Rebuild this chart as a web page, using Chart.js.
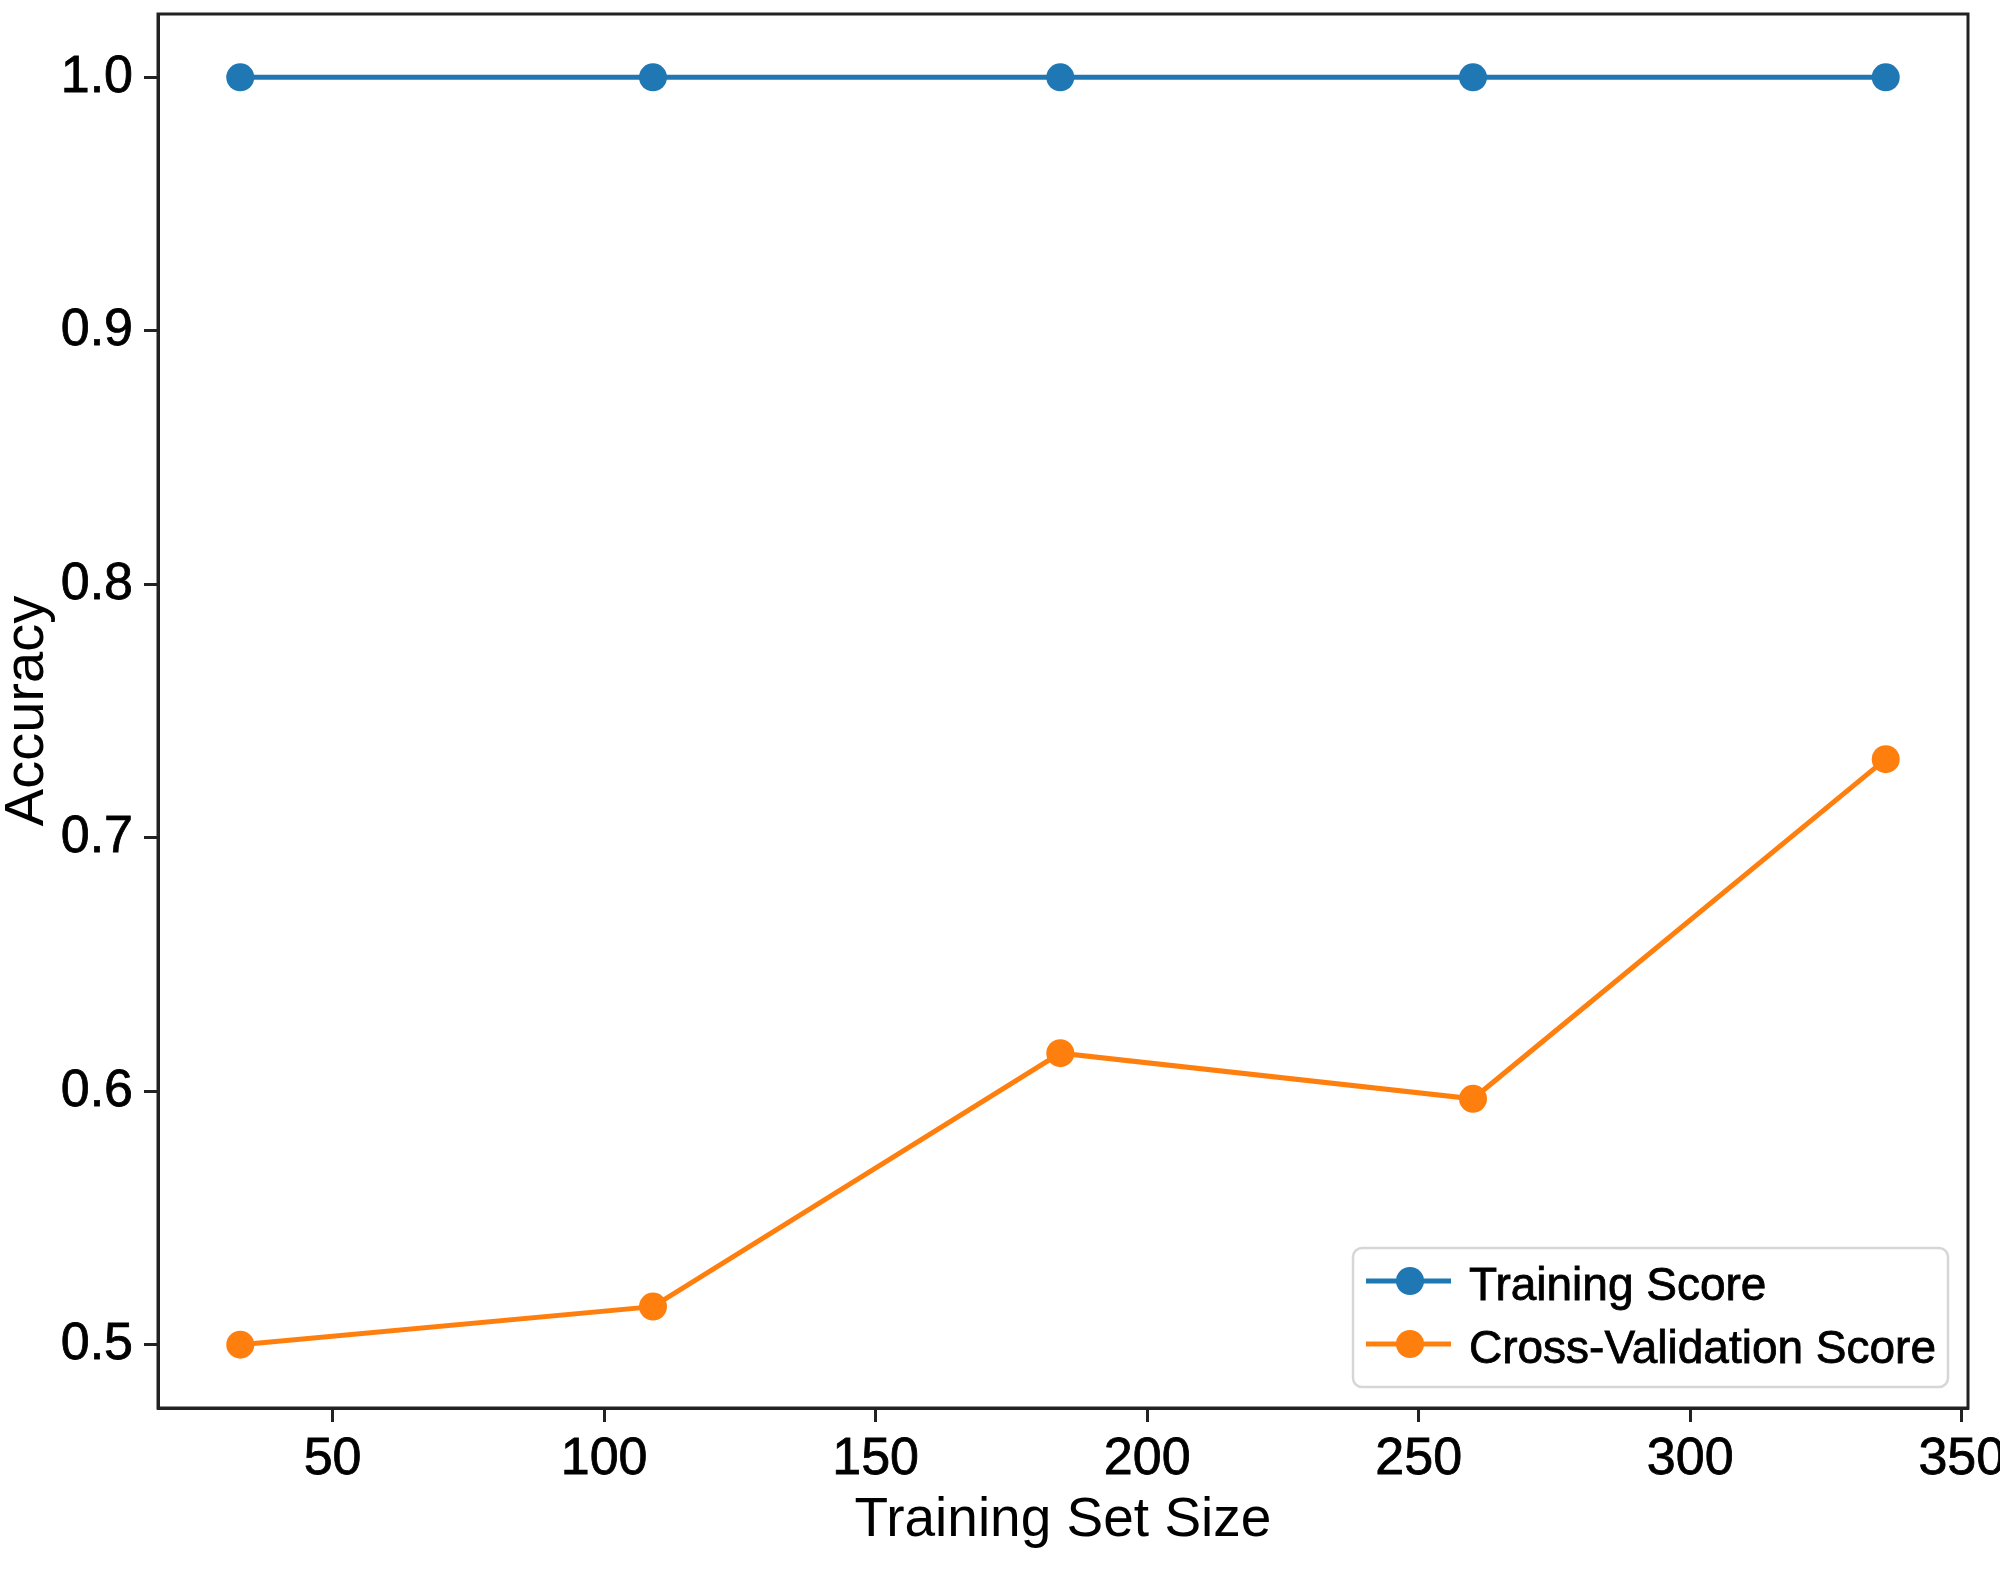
<!DOCTYPE html>
<html>
<head>
<meta charset="utf-8">
<script src="https://cdn.jsdelivr.net/npm/chart.js@4.4.1/dist/chart.umd.min.js"></script>
<style>
  html, body { margin: 0; padding: 0; background: #ffffff; }
  #wrap { width: 2000px; height: 1570px; }
  canvas { display: block; }
</style>
</head>
<body>
<div id="wrap"><canvas id="c" width="2000" height="1570" style="width:2000px;height:1570px"></canvas></div>
<script>
// ---- data ----
const trainSizes = [33, 109, 184, 260, 336];
const trainingScore = [1.0, 1.0, 1.0, 1.0, 1.0];
const cvScore = [0.500, 0.515, 0.615, 0.597, 0.731];
const seriesLabels = ['Training Score', 'Cross-Validation Score'];
const xTicks = [50, 100, 150, 200, 250, 300, 350];
const yTicks = [0.5, 0.6, 0.7, 0.8, 0.9, 1.0];
const xTitle = 'Training Set Size';
const yTitle = 'Accuracy';

const FONT = '"Liberation Sans", Arial, Helvetica, sans-serif';
const BLUE = '#1f77b4';
const ORANGE = '#ff7f0e';
const AXIS = '#222222';

Chart.defaults.color = '#000000';
Chart.defaults.font.family = FONT;

function toPoints(xs, ys) { return xs.map((x, i) => ({ x: x, y: ys[i] })); }

// full box (matplotlib-like spines)
const boxPlugin = {
  id: 'box',
  afterDraw(chart) {
    const a = chart.chartArea, ctx = chart.ctx;
    ctx.save();
    ctx.strokeStyle = AXIS;
    ctx.lineWidth = 3;
    ctx.strokeRect(a.left, a.top, a.right - a.left, a.bottom - a.top);
    ctx.restore();
  }
};

// legend inside axes, lower right
const legendPlugin = {
  id: 'innerLegend',
  afterDraw(chart) {
    const a = chart.chartArea, ctx = chart.ctx;
    const w = 595, h = 139;
    const x0 = a.right - 20 - w, y0 = a.bottom - 21 - h;
    ctx.save();
    const r = 9;
    ctx.beginPath();
    ctx.moveTo(x0 + r, y0);
    ctx.arcTo(x0 + w, y0, x0 + w, y0 + h, r);
    ctx.arcTo(x0 + w, y0 + h, x0, y0 + h, r);
    ctx.arcTo(x0, y0 + h, x0, y0, r);
    ctx.arcTo(x0, y0, x0 + w, y0, r);
    ctx.closePath();
    ctx.fillStyle = 'rgba(255,255,255,0.85)';
    ctx.fill();
    ctx.strokeStyle = '#d6d6d6';
    ctx.lineWidth = 2.5;
    ctx.stroke();
    chart.data.datasets.forEach((ds, i) => {
      const cy = y0 + 33 + i * 63;
      ctx.strokeStyle = ds.borderColor;
      ctx.lineWidth = 5;
      ctx.beginPath();
      ctx.moveTo(x0 + 13, cy);
      ctx.lineTo(x0 + 98, cy);
      ctx.stroke();
      ctx.fillStyle = ds.borderColor;
      ctx.beginPath();
      ctx.arc(x0 + 57, cy, 14, 0, Math.PI * 2);
      ctx.fill();
      ctx.fillStyle = '#000';
      ctx.strokeStyle = '#000';
      ctx.lineWidth = 0.8;
      ctx.font = '46px ' + FONT;
      ctx.textBaseline = 'alphabetic';
      ctx.textAlign = 'left';
      ctx.fillText(ds.label, x0 + 116, cy + 19);
      ctx.strokeText(ds.label, x0 + 116, cy + 19);
    });
    ctx.restore();
  }
};

new Chart(document.getElementById('c'), {
  type: 'line',
  data: {
    datasets: [
      {
        label: seriesLabels[0],
        data: toPoints(trainSizes, trainingScore),
        borderColor: BLUE, backgroundColor: BLUE,
        pointBackgroundColor: BLUE, pointBorderColor: BLUE,
        borderWidth: 5, pointRadius: 14, pointBorderWidth: 0, tension: 0
      },
      {
        label: seriesLabels[1],
        data: toPoints(trainSizes, cvScore),
        borderColor: ORANGE, backgroundColor: ORANGE,
        pointBackgroundColor: ORANGE, pointBorderColor: ORANGE,
        borderWidth: 5, pointRadius: 14, pointBorderWidth: 0, tension: 0
      }
    ]
  },
  options: {
    responsive: false,
    animation: false,
    devicePixelRatio: 1,
    layout: { padding: { top: 13, right: 32, left: 0, bottom: 0 } },
    plugins: { legend: { display: false }, tooltip: { enabled: false } },
    scales: {
      x: {
        type: 'linear',
        min: 17.85, max: 351.15,
        afterBuildTicks: s => { s.ticks = xTicks.map(v => ({ value: v })); },
        ticks: { font: { size: 52, family: FONT }, color: '#000', padding: 6, maxRotation: 0, autoSkip: false,
                 textStrokeColor: '#000', textStrokeWidth: 0.8,
                 callback: v => String(v) },
        grid: { drawOnChartArea: false, drawTicks: true, tickLength: 14, tickWidth: 3, tickColor: AXIS },
        border: { display: true, color: AXIS, width: 3 },
        title: { display: true, text: xTitle, color: '#000',
                 font: { size: 55, family: FONT, lineHeight: 1 }, padding: { top: 0, bottom: 22 } },
        afterFit: s => { s.height = 162; s.paddingLeft = 0; s.paddingRight = 0; }
      },
      y: {
        type: 'linear',
        min: 0.475, max: 1.025,
        afterBuildTicks: s => { s.ticks = yTicks.map(v => ({ value: v })); },
        ticks: { font: { size: 52, family: FONT }, color: '#000', padding: 11, autoSkip: false,
                 textStrokeColor: '#000', textStrokeWidth: 0.8,
                 callback: v => Number(v).toFixed(1) },
        grid: { drawOnChartArea: false, drawTicks: true, tickLength: 14, tickWidth: 3, tickColor: AXIS },
        border: { display: true, color: AXIS, width: 3 },
        title: { display: true, text: yTitle, color: '#000',
                 font: { size: 56, family: FONT, lineHeight: 1 }, padding: { top: 0, bottom: 0 } },
        afterFit: s => { s.width = 158; s.paddingTop = 0; s.paddingBottom = 0; }
      }
    }
  },
  plugins: [boxPlugin, legendPlugin]
});
</script>
</body>
</html>
